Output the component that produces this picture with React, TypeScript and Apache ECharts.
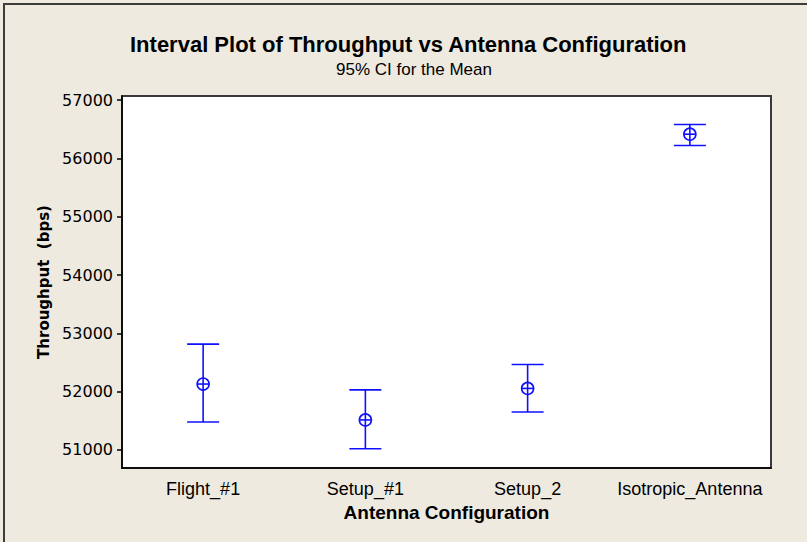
import React, { useEffect, useRef } from "react";
import * as echarts from "echarts";

const categories = ["Flight_#1", "Setup_#1", "Setup_2", "Isotropic_Antenna"];
const means = [52130, 51515, 52055, 56415];
const lowerCI = [51480, 51020, 51650, 56220];
const upperCI = [52815, 52030, 52465, 56580];
const yTicks = [51000, 52000, 53000, 54000, 55000, 56000, 57000];

const NARROW = "'Liberation Sans', Arial, sans-serif";
const WIDE = "'DejaVu Sans', Verdana, sans-serif";
const BLUE = "#1010ff";

export default function App() {
  const ref = useRef<HTMLDivElement>(null);
  useEffect(() => {
    if (!ref.current) return;
    const chart = echarts.init(ref.current, null, { renderer: "svg" });
    const data = categories.map((_, i) => [i, lowerCI[i], means[i], upperCI[i]]);
    chart.setOption({
      animation: false,
      backgroundColor: "#eeeae0",
      title: [
        {
          text: "Interval Plot of Throughput vs Antenna Configuration",
          left: 130,
          top: 33,
          padding: 0,
          textStyle: { fontFamily: NARROW, fontWeight: "bold", fontSize: 22, color: "#000" },
        },
        {
          text: "95% CI for the Mean",
          left: 336,
          top: 61,
          padding: 0,
          textStyle: { fontFamily: NARROW, fontWeight: "normal", fontSize: 17, color: "#000" },
        },
      ],
      graphic: [
        {
          type: "rect",
          shape: { x: 4, y: 4, width: 830, height: 570 },
          style: { fill: "none", stroke: "#3c3c3c", lineWidth: 2 },
          silent: true,
        },
      ],
      grid: {
        left: 122,
        top: 96,
        right: 36,
        bottom: 74,
        show: true,
        backgroundColor: "#ffffff",
        borderColor: "#3a3a3a",
        borderWidth: 2,
      },
      xAxis: {
        type: "category",
        data: categories,
        boundaryGap: true,
        name: "Antenna Configuration",
        nameLocation: "middle",
        nameGap: 35,
        nameTextStyle: { fontFamily: NARROW, fontWeight: "bold", fontSize: 19, color: "#000" },
        axisLine: { lineStyle: { color: "#000", width: 1.5 } },
        axisTick: { alignWithLabel: true, length: 7, lineStyle: { color: "#000", width: 1.5 } },
        axisLabel: {
          fontFamily: NARROW,
          fontSize: 18,
          color: "#000",
          margin: 12,
          interval: 0,
          hideOverlap: false,
        },
        splitLine: { show: false },
      },
      yAxis: {
        type: "value",
        min: 50690,
        max: 57070,
        name: "Throughput  (bps)",
        nameLocation: "middle",
        nameGap: 70,
        nameRotate: 90,
        nameTextStyle: { fontFamily: WIDE, fontWeight: "bold", fontSize: 15, color: "#000" },
        axisLine: { show: true, lineStyle: { color: "#000", width: 1.5 } },
        axisTick: { show: true, length: 5, customValues: yTicks, lineStyle: { color: "#000", width: 1.5 } },
        axisLabel: {
          fontFamily: WIDE,
          fontSize: 16,
          color: "#000",
          margin: 9,
          customValues: yTicks,
          formatter: (v: number) => String(v),
        },
        splitLine: { show: false },
      },
      series: [
        {
          type: "custom",
          data,
          encode: { x: 0, y: [1, 2, 3] },
          renderItem: (params: any, api: any) => {
            const idx = api.value(0);
            const lo = api.coord([idx, api.value(1)]);
            const mid = api.coord([idx, api.value(2)]);
            const hi = api.coord([idx, api.value(3)]);
            const half = 16;
            const r = 6;
            const style = { stroke: BLUE, lineWidth: 1.6, fill: "none" };
            return {
              type: "group",
              children: [
                { type: "line", shape: { x1: hi[0], y1: hi[1], x2: lo[0], y2: lo[1] }, style },
                { type: "line", shape: { x1: hi[0] - half, y1: hi[1], x2: hi[0] + half, y2: hi[1] }, style },
                { type: "line", shape: { x1: lo[0] - half, y1: lo[1], x2: lo[0] + half, y2: lo[1] }, style },
                { type: "circle", shape: { cx: mid[0], cy: mid[1], r }, style },
                { type: "line", shape: { x1: mid[0] - r, y1: mid[1], x2: mid[0] + r, y2: mid[1] }, style },
              ],
            };
          },
        },
      ],
    });
    return () => chart.dispose();
  }, []);
  return (
    <div
      ref={ref}
      style={{ position: "fixed", left: 0, top: 0, width: 807, height: 542 }}
    />
  );
}
